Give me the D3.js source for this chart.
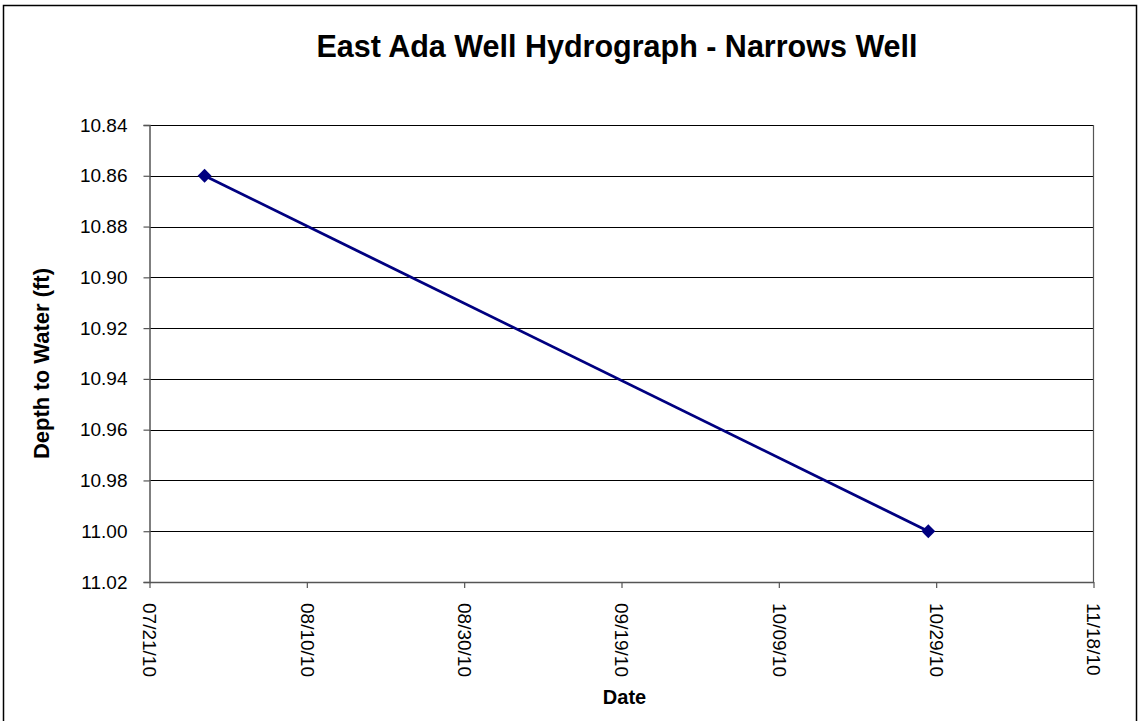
<!DOCTYPE html>
<html><head><meta charset="utf-8">
<script src="https://cdn.jsdelivr.net/npm/d3@7"></script>
<style>html,body{margin:0;padding:0;background:#fff;}svg{display:block;font-family:"Liberation Sans",Arial,sans-serif;}</style>
</head><body>
<script>
const dates = ["2010-07-28", "2010-10-28"];
const depths = [10.86, 11.00];
const yTicks = [10.84, 10.86, 10.88, 10.90, 10.92, 10.94, 10.96, 10.98, 11.00, 11.02];
const xTickLabels = ["07/21/10", "08/10/10", "08/30/10", "09/19/10", "10/09/10", "10/29/10", "11/18/10"];

const W = 1138, H = 721;
const m = {l: 149.5, r: 1093.5, t: 125, b: 582};
const parse = d3.timeParse("%Y-%m-%d");
const parseTick = d3.timeParse("%m/%d/%y");
const tickDates = xTickLabels.map(parseTick);

const svg = d3.select("body").append("svg").attr("width", W).attr("height", H);
svg.append("rect").attr("x", 3.5).attr("y", 5.5).attr("width", 1133).attr("height", 730)
  .attr("fill", "none").attr("stroke", "#000").attr("stroke-width", 1.5);

const x = d3.scaleTime().domain([tickDates[0], tickDates[tickDates.length - 1]]).range([m.l, m.r]);
const y = d3.scaleLinear().domain([10.84, 11.02]).range([m.t, m.b]);

// gridlines
svg.append("g").selectAll("line").data(yTicks).join("line")
  .attr("x1", m.l).attr("x2", m.r)
  .attr("y1", d => Math.round(y(d)) + 0.5).attr("y2", d => Math.round(y(d)) + 0.5)
  .attr("stroke", "#000").attr("stroke-width", 1);

// plot border right
svg.append("line").attr("x1", m.r).attr("x2", m.r).attr("y1", m.t).attr("y2", m.b)
  .attr("stroke", "#555").attr("stroke-width", 1.2);

// y axis
const yAxis = svg.append("g").attr("transform", `translate(${m.l},0)`)
  .call(d3.axisLeft(y).tickValues(yTicks).tickFormat(d3.format(".2f")).tickSize(6).tickPadding(16));
yAxis.select(".domain").attr("stroke", "#555").attr("stroke-width", 1.5);
yAxis.selectAll(".tick line").attr("stroke", "#555").attr("stroke-width", 1.2);
yAxis.selectAll("text").attr("font-size", 19).attr("fill", "#000").attr("font-family", "Liberation Sans, Arial, sans-serif");

// x axis
const xAxis = svg.append("g").attr("transform", `translate(0,${m.b})`)
  .call(d3.axisBottom(x).tickValues(tickDates).tickFormat(d3.timeFormat("%m/%d/%y")).tickSize(6).tickSizeOuter(0));
xAxis.select(".domain").attr("stroke", "#555").attr("stroke-width", 1.5);
xAxis.selectAll(".tick line").attr("stroke", "#555").attr("stroke-width", 1.2);
xAxis.selectAll("text").attr("font-size", 19).attr("fill", "#000")
  .attr("font-family", "Liberation Sans, Arial, sans-serif")
  .attr("transform", "rotate(90)").attr("text-anchor", "start")
  .attr("x", 21).attr("y", 0).attr("dy", "0.35em");

// line
const pts = dates.map((d, i) => ({date: parse(d), v: depths[i]}));
svg.append("path").datum(pts)
  .attr("d", d3.line().x(d => x(d.date)).y(d => y(d.v)))
  .attr("fill", "none").attr("stroke", "#000080").attr("stroke-width", 2.8);
svg.append("g").selectAll("path").data(pts).join("path")
  .attr("d", d3.symbol().type(d3.symbolSquare).size(96))
  .attr("transform", d => `translate(${x(d.date)},${y(d.v)}) rotate(45)`)
  .attr("fill", "#000080");

// titles
svg.append("text").attr("x", 617).attr("y", 57).attr("text-anchor", "middle")
  .attr("font-size", 30.5).attr("font-weight", "bold").text("East Ada Well Hydrograph - Narrows Well");
svg.append("text").attr("transform", `translate(49,363.5) rotate(-90)`)
  .attr("text-anchor", "middle").attr("font-size", 22).attr("font-weight", "bold").text("Depth to Water (ft)");
svg.append("text").attr("x", 624.5).attr("y", 704).attr("text-anchor", "middle")
  .attr("font-size", 20).attr("font-weight", "bold").text("Date");
</script>
</body></html>
